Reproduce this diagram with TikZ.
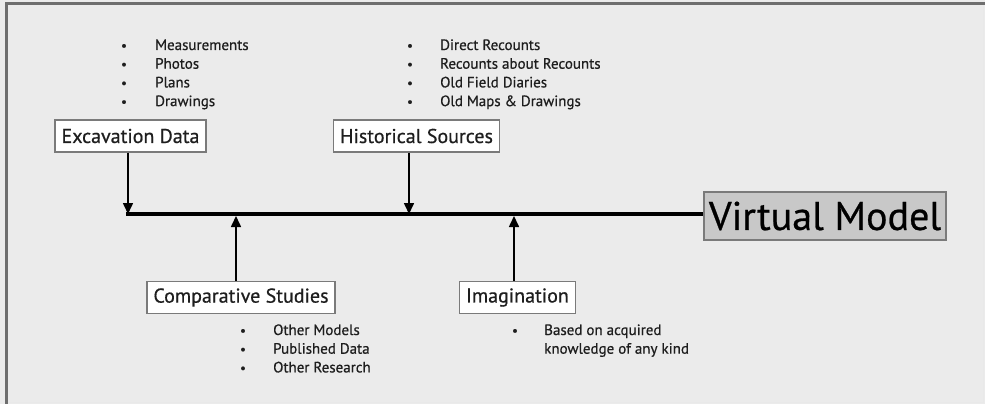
\documentclass[tikz,border=0pt]{standalone}
\usepackage{fontspec}
\setmainfont{PT Sans}[UprightFeatures={FakeBold=0.6}]
\usetikzlibrary{arrows.meta}
\definecolor{bg}{HTML}{EBEBEB}
\definecolor{frame}{HTML}{6E6E6E}
\definecolor{boxline}{HTML}{7A7A7A}
\definecolor{modelfill}{HTML}{C8C8C8}
\definecolor{txt}{HTML}{1E1E1E}
\tikzset{
  x=1pt, y=-1pt,
  srcbox/.style={draw=boxline, line width=1.2pt, fill=white, inner xsep=6.5pt, inner ysep=3pt,
    font=\fontsize{20}{22}\selectfont, text=txt, minimum height=32pt},
  modelbox/.style={draw=boxline, line width=1.2pt, fill=modelfill, inner xsep=5pt, inner ysep=2pt,
    font=\fontsize{40}{42}\selectfont, text=black, minimum height=48pt},
  item/.style={anchor=base west, inner sep=0pt, font=\fontsize{15}{17}\selectfont, text=txt},
  dot/.style={anchor=base, inner sep=0pt, font=\fontsize{13}{15}\selectfont, text=txt},
  feed/.style={line width=1.6pt, -{Triangle[length=11pt,width=10pt]}},
  spine/.style={line width=3.8pt}
}
\begin{document}
\begin{tikzpicture}
\useasboundingbox (0,0) rectangle (985,404);
\fill[bg] (0,0) rectangle (985,404);
% outer frame: dark top and left edges, light right and bottom edges
\draw[line width=1pt, white!85!frame] (983,4) -- (983,402) -- (6,402);
\draw[line width=3pt, frame] (6,404) -- (6,3.5) -- (985,3.5);

% source boxes
\node[srcbox] (exc) at (130.5,136) {Excavation Data};
\node[srcbox] (his) at (416.5,136) {Historical Sources};
\node[srcbox] (cmp) at (241,297.5) {Comparative Studies};
\node[srcbox] (img) at (517.5,297.5) {Imagination};
\node[modelbox] (vm) at (825,216) {Virtual Model};

% main spine into the model
\coordinate (s0) at (126,214);
\draw[spine] (s0) -- (vm.west |- s0);

% feeds onto the spine
\coordinate (e1) at (128,214);
\coordinate (h1) at (409,214);
\coordinate (c1) at (236,216);
\coordinate (i1) at (514,216);
\draw[feed] (exc.south -| e1) -- (e1);
\draw[feed] (his.south -| h1) -- (h1);
\draw[feed] (cmp.north -| c1) -- (c1);
\draw[feed] (img.north -| i1) -- (i1);

% bullet lists
\foreach \t [count=\i] in {Measurements,Photos,Plans,Drawings}{
  \node[dot] (ed\i) at (124,{50+(\i-1)*18.7}) {\textbullet};
  \node[item] (et\i) at (155,{50+(\i-1)*18.7}) {\t};
}
\foreach \t [count=\i] in {Direct Recounts,Recounts about Recounts,Old Field Diaries,Old Maps \& Drawings}{
  \node[dot] (hd\i) at (410,{50+(\i-1)*18.7}) {\textbullet};
  \node[item] (ht\i) at (440,{50+(\i-1)*18.7}) {\t};
}
\foreach \t [count=\i] in {Other Models,Published Data,Other Research}{
  \node[dot] (cd\i) at (243,{335+(\i-1)*18.7}) {\textbullet};
  \node[item] (ct\i) at (273,{335+(\i-1)*18.7}) {\t};
}
\node[dot] (id1) at (515,335) {\textbullet};
\node[item] (it1) at (544,335) {Based on acquired};
\node[item] (it2) at (544,353.7) {knowledge of any kind};
\end{tikzpicture}
\end{document}
